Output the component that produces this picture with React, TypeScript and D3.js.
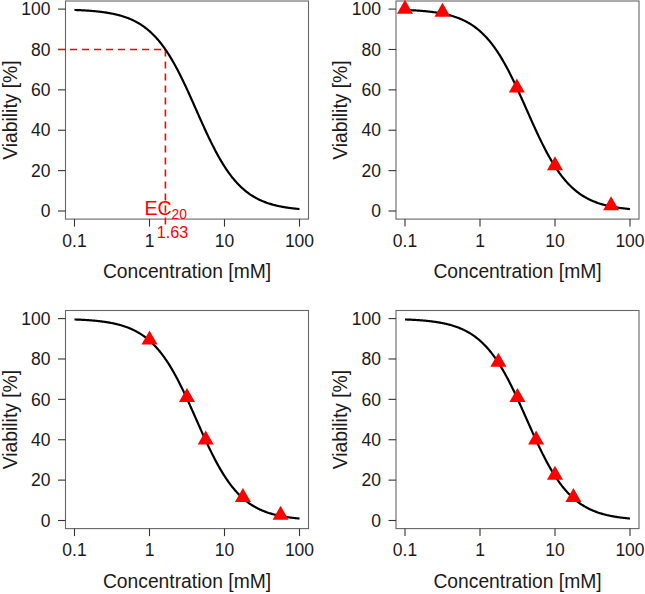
import React from "react";
import * as d3 from "d3";

// ---- Data ----
const concTicks = [0.1, 1, 10, 100];
const concTickLabels = ["0.1", "1", "10", "100"];
const viabTicks = [0, 20, 40, 60, 80, 100];
const viabTickLabels = ["0", "20", "40", "60", "80", "100"];

// fitted log-logistic dose-response model (parameters)
const modelTop = 100;
const modelBottom = 0;
const modelEC50 = 4.21;
const modelHill = 1.46;

const ec20Value = 1.63;
const ec20Level = 80;
const ec20Label = "1.63";

const panel2Conc = [0.1, 0.316, 3.1, 10, 56];
const panel2Viab = [100, 98.5, 61, 22.5, 2.7];
const panel3Conc = [1, 3.16, 5.62, 17.6, 56];
const panel3Viab = [89.5, 61, 40, 11.5, 2.7];
const panel4Conc = [1.76, 3.16, 5.6, 10, 17.6];
const panel4Viab = [78.5, 61, 40, 22.5, 11.5];

const xLabel = "Concentration [mM]";
const yLabel = "Viability [%]";

const FONT = "'Liberation Sans', Arial, Helvetica, sans-serif";
const TEXT = "#1a1a1a";
const RED = "#ff0000";

const model = (c: number) =>
  modelBottom + (modelTop - modelBottom) / (1 + Math.pow(c / modelEC50, modelHill));

type PanelProps = {
  dx: number;
  dy: number;
  conc?: number[];
  viab?: number[];
  showEC?: boolean;
};

function Panel({ dx, dy, conc, viab, showEC }: PanelProps) {
  const x = d3.scaleLog().domain([0.1, 100]).range([74.5, 299.5]);
  const y = d3.scaleLinear().domain([0, 100]).range([211, 9.1]);
  const boxL = 65.5, boxR = 308.5, boxT = 1.0, boxB = 219.1;
  const tickLen = 7.5;

  const samples = d3.range(0, 301).map((i) => Math.pow(10, -1 + (3 * i) / 300));
  const line = d3
    .line<number>()
    .x((c) => x(c))
    .y((c) => y(model(c)));

  const tri = d3.symbol().type(d3.symbolTriangle).size(112)();

  return (
    <g transform={`translate(${dx},${dy})`}>
      {/* box */}
      <rect x={boxL} y={boxT} width={boxR - boxL} height={boxB - boxT} fill="none" stroke="#666" strokeWidth={1.1} />
      {/* x ticks */}
      {concTicks.map((t, i) => (
        <g key={"xt" + i}>
          <line x1={x(t)} x2={x(t)} y1={boxB} y2={boxB + tickLen} stroke="#333" strokeWidth={1.1} />
          <text x={x(t)} y={246.5} textAnchor="middle" fontSize={17.5} fontFamily={FONT} fill={TEXT}>
            {concTickLabels[i]}
          </text>
        </g>
      ))}
      {/* y ticks */}
      {viabTicks.map((t, i) => (
        <g key={"yt" + i}>
          <line x1={boxL - tickLen} x2={boxL} y1={y(t)} y2={y(t)} stroke="#333" strokeWidth={1.1} />
          <text x={50.5} y={y(t) + 6.2} textAnchor="end" fontSize={17.5} fontFamily={FONT} fill={TEXT}>
            {viabTickLabels[i]}
          </text>
        </g>
      ))}
      {/* axis titles */}
      <text x={(boxL + boxR) / 2} y={278} textAnchor="middle" fontSize={19.3} fontFamily={FONT} fill={TEXT}>
        {xLabel}
      </text>
      <text
        transform={`translate(16.5,${(y(0) + y(100)) / 2}) rotate(-90)`}
        textAnchor="middle"
        fontSize={19.3}
        fontFamily={FONT}
        fill={TEXT}
      >
        {yLabel}
      </text>

      {/* EC20 annotation */}
      {showEC && (
        <g>
          <line x1={boxL - tickLen} x2={x(ec20Value)} y1={y(ec20Level)} y2={y(ec20Level)} stroke={RED} strokeWidth={1.6} strokeDasharray="7,5" />
          <line x1={x(ec20Value)} x2={x(ec20Value)} y1={y(ec20Level)} y2={boxB + tickLen} stroke={RED} strokeWidth={1.6} strokeDasharray="7,5" />
          <text x={x(ec20Value) - 21} y={215} fontSize={19.5} fontFamily={FONT} fill={RED}>
            EC
            <tspan fontSize={13.8} dy={3.5}>20</tspan>
          </text>
          <text x={x(ec20Value) - 8.7} y={238.2} fontSize={16.2} fontFamily={FONT} fill={RED}>
            {ec20Label}
          </text>
        </g>
      )}

      {/* fitted curve */}
      <path d={line(samples) || ""} fill="none" stroke="#000" strokeWidth={2.2} />

      {/* points */}
      {conc &&
        viab &&
        conc.map((c, i) => (
          <path key={"p" + i} d={tri || ""} transform={`translate(${x(c)},${y(viab[i])})`} fill={RED} />
        ))}
    </g>
  );
}

export default function App() {
  return (
    <svg
      width={645}
      height={594}
      viewBox="0 0 645 594"
      style={{ position: "absolute", left: 0, top: 0, background: "#fff" }}
    >
      <rect x={0} y={0} width={645} height={594} fill="#fff" />
      <Panel dx={0} dy={0} showEC />
      <Panel dx={330.5} dy={0} conc={panel2Conc} viab={panel2Viab} />
      <Panel dx={0} dy={309.5} conc={panel3Conc} viab={panel3Viab} />
      <Panel dx={330.5} dy={309.5} conc={panel4Conc} viab={panel4Viab} />
    </svg>
  );
}
